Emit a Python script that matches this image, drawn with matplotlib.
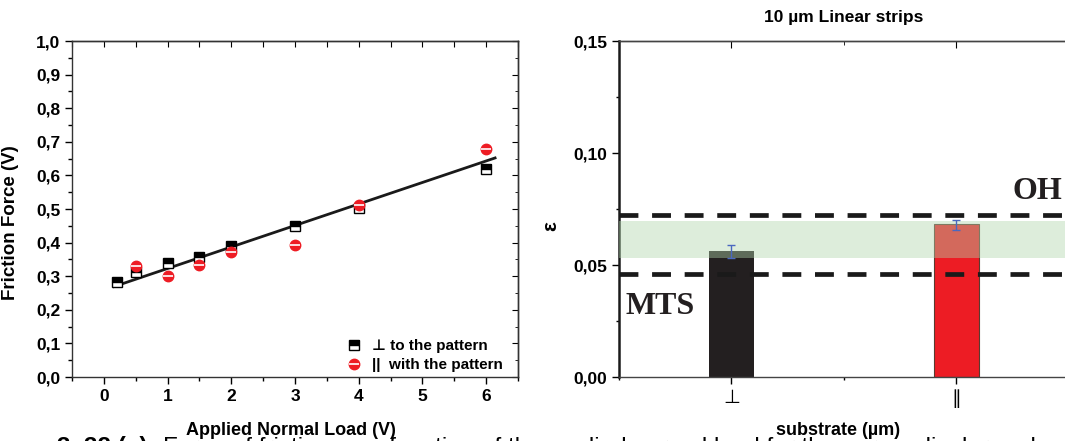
import matplotlib
matplotlib.use('Agg')
import matplotlib.pyplot as plt
from matplotlib.ticker import MultipleLocator, FuncFormatter
from matplotlib.legend_handler import HandlerTuple
import numpy as np

plt.rcParams['font.family'] = ['Liberation Sans', 'DejaVu Sans']

# 左图数据：摩擦力 vs 法向载荷
load_perp = [0.2, 0.5, 1.0, 1.5, 2.0, 3.0, 4.0, 6.0]
force_perp = [0.284, 0.314, 0.339, 0.356, 0.391, 0.448, 0.502, 0.619]
load_par = [0.5, 1.0, 1.5, 2.0, 3.0, 4.0, 6.0]
force_par = [0.329, 0.301, 0.332, 0.373, 0.394, 0.512, 0.678]
fit_x = [0.16, 6.14]
fit_slope = 0.064
fit_icpt = 0.259

# 右图数据：ε 柱状图
cats = ['\u22a5', '\u2225']
eps_val = [0.0563, 0.0682]
eps_err = [0.0029, 0.0021]
eps_center = [0.0559, 0.0679]
oh_level = 0.0723
mts_level = 0.0458
band_lo, band_hi = 0.0531, 0.0696

comma = FuncFormatter(lambda v, p: ('%.1f' % v).replace('.', ','))
comma2 = FuncFormatter(lambda v, p: ('%.2f' % v).replace('.', ','))

fig = plt.figure(figsize=(10.65, 4.41), dpi=100)
ax1 = fig.add_axes([0.0676, 0.1451, 0.4188, 0.7619])
ax2 = fig.add_axes([0.5812, 0.1451, 0.4225, 0.7619])

# ---------------- 左图 ----------------
ax1.plot(load_perp, force_perp, ls='none', marker='s', ms=6.5, fillstyle='top',
         mfc='black', mfcalt='white', mec='black', mew=1.0, zorder=3)
c1, = ax1.plot(load_par, force_par, ls='none', marker='o', ms=7.5, mfc='#ee1c24',
               mec='#ee1c24', zorder=4)
c2, = ax1.plot(load_par, force_par, ls='none', marker='_', ms=7, mec='white',
               mew=1.2, zorder=5)
fx = np.array(fit_x)
ax1.plot(fx, fit_slope * fx + fit_icpt, color='#1a1a1a', lw=2.0, zorder=2)

sq = plt.Line2D([], [], ls='none', marker='s', ms=6.5, fillstyle='top',
                mfc='black', mfcalt='white', mec='black')
ax1.legend([sq, (c1, c2)], ['\u22a5 to the pattern', '||  with the pattern'],
           handler_map={tuple: HandlerTuple(ndivide=1)},
           loc='lower right', bbox_to_anchor=(0.99, -0.018), frameon=False,
           prop={'weight': 'bold', 'size': 11},
           handlelength=1.2, handletextpad=0.6, borderaxespad=0.3, labelspacing=0.35)

ax1.set_xlim(-0.5, 6.5)
ax1.set_ylim(0, 1.0)
ax1.xaxis.set_major_locator(MultipleLocator(1))
ax1.xaxis.set_minor_locator(MultipleLocator(0.5))
ax1.yaxis.set_major_locator(MultipleLocator(0.1))
ax1.yaxis.set_minor_locator(MultipleLocator(0.05))
ax1.yaxis.set_major_formatter(comma)
ax1.tick_params(which='major', direction='out', length=5, width=1, labelsize=12.5)
ax1.tick_params(which='minor', direction='out', length=3, width=1)
for lb in ax1.get_xticklabels() + ax1.get_yticklabels():
    lb.set_fontweight('bold')
sx = ax1.secondary_xaxis('top')
sx.xaxis.set_major_locator(MultipleLocator(0.5))
sx.tick_params(direction='in', length=4, labeltop=False)
sy = ax1.secondary_yaxis('right')
sy.yaxis.set_major_locator(MultipleLocator(0.1))
sy.yaxis.set_minor_locator(MultipleLocator(0.05))
sy.tick_params(which='major', direction='in', length=4, labelright=False)
sy.tick_params(which='minor', direction='in', length=2.5)
for a in (ax1, sx, sy):
    for s in a.spines.values():
        s.set_color('#333333')
        s.set_linewidth(1.0)

ax1.set_ylabel('Friction Force (V)', fontsize=13.5, fontweight='bold')
ax1.yaxis.set_label_coords(-0.119, 0.46)
ax1.set_xlabel('Applied Normal Load (V)', fontsize=13, fontweight='bold')
ax1.xaxis.set_label_coords(0.49, -0.135)

# ---------------- 右图 ----------------
xpos = [1, 2]
ax2.bar(xpos[0], eps_val[0], width=0.2, color='#231f20', zorder=2)
ax2.bar(xpos[1], eps_val[1], width=0.2, color='#ed1c24', edgecolor='#5a3a30',
        linewidth=0.8, zorder=2)
ax2.axhspan(band_lo, band_hi, color=(176/255, 214/255, 171/255), alpha=0.42,
            lw=0, zorder=3)
ax2.errorbar(xpos, eps_center, yerr=eps_err, fmt='none', ecolor='#4a68c0',
             elinewidth=1.0, capsize=3, capthick=1.0, zorder=4)
for lvl in (oh_level, mts_level):
    ax2.axhline(lvl, color='#1a1a1a', lw=3.4, dashes=(4.0, 2.9), zorder=5)

ax2.text(2.47, 0.0765, 'OH', fontsize=23, fontweight='bold',
         family='Liberation Serif', color='#231f20', ha='right', va='bottom')
ax2.text(0.53, 0.0252, 'MTS', fontsize=23, fontweight='bold',
         family='Liberation Serif', color='#231f20', ha='left', va='bottom')

ax2.set_xlim(0.5, 2.5)
ax2.set_ylim(0, 0.15)
ax2.set_xticks(xpos)
ax2.set_xticklabels(cats, fontsize=14)
ax2.xaxis.set_minor_locator(MultipleLocator(0.5))
ax2.yaxis.set_major_locator(MultipleLocator(0.05))
ax2.yaxis.set_minor_locator(MultipleLocator(0.025))
ax2.yaxis.set_major_formatter(comma2)
ax2.tick_params(which='major', direction='out', length=5, width=1, labelsize=12.5)
ax2.tick_params(axis='x', which='major', labelsize=14, pad=4)
ax2.tick_params(which='minor', direction='out', length=2.5, width=1)
for lb in ax2.get_yticklabels():
    lb.set_fontweight('bold')
sx2 = ax2.secondary_xaxis('top')
sx2.set_xticks(xpos)
sx2.xaxis.set_minor_locator(MultipleLocator(0.5))
sx2.tick_params(which='major', direction='in', length=5, labeltop=False)
sx2.tick_params(which='minor', direction='in', length=3)
ax2.spines['right'].set_visible(False)
ax2.spines['left'].set_linewidth(1.8)
ax2.spines['left'].set_color('#1a1a1a')
for a, s in ((ax2, 'bottom'), (ax2, 'top'), (sx2, 'top')):
    a.spines[s].set_color('#444444')
    a.spines[s].set_linewidth(1.0)

ax2.set_title('10 \u00b5m Linear strips', fontsize=12.5, fontweight='bold', pad=14)
ax2.set_ylabel('\u03b5', fontsize=15, fontweight='bold')
ax2.yaxis.set_label_coords(-0.13, 0.45)
ax2.set_xlabel('substrate (\u00b5m)', fontsize=13, fontweight='bold')
ax2.xaxis.set_label_coords(0.487, -0.135)

# 底部被裁掉的图注（原图中只露出上半部分）
fig.text(57 / 1065, -13 / 441, '3. 32 (a)', fontsize=17.5, fontweight='bold', va='baseline')
fig.text(163 / 1065, -13 / 441,
         'Force of friction as a function of the applied normal load for the perpendicular and',
         fontsize=17.5, va='baseline')

fig.savefig('out.png', dpi=100)
